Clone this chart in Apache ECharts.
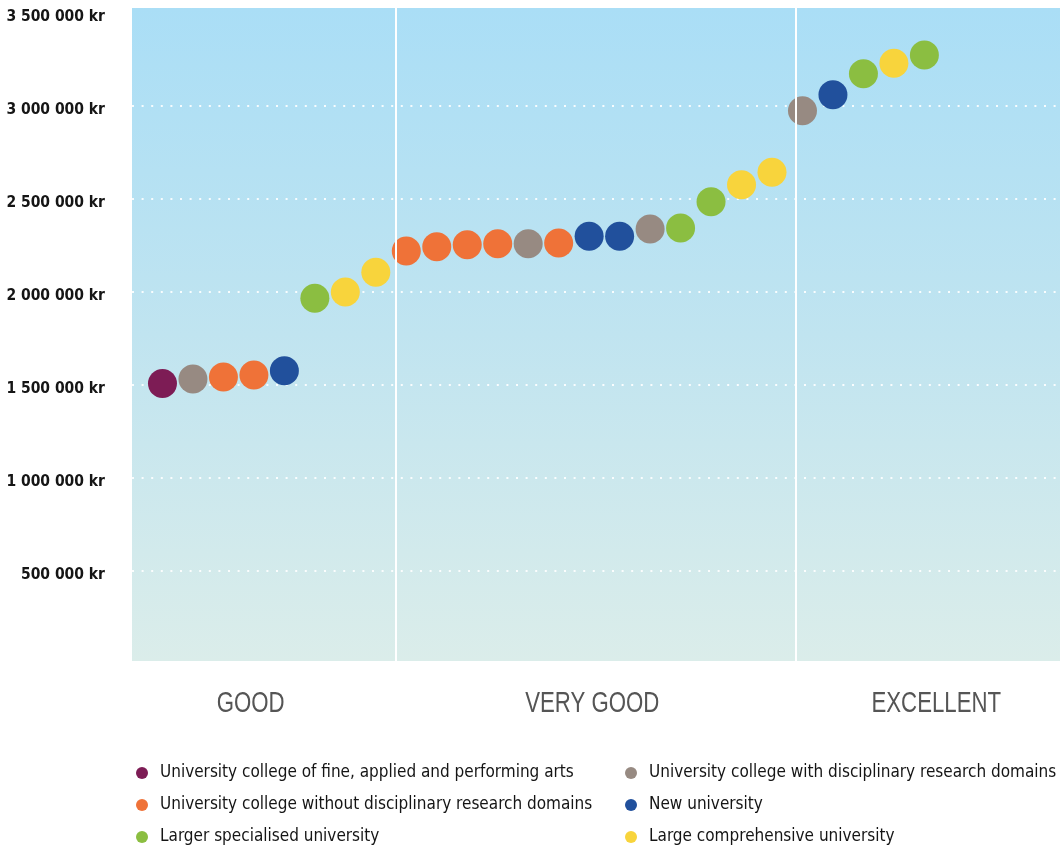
<!DOCTYPE html>
<html>
<head>
<meta charset="utf-8">
<script src="https://cdn.jsdelivr.net/npm/echarts@6/dist/echarts.min.js"></script>
<style>
  html, body { margin: 0; padding: 0; background: #ffffff; }
  #chart { width: 1063px; height: 848px; }
</style>
</head>
<body>
<div id="chart"></div>
<script>
// ---- DATA ----
const typeNames = [
  'University college of fine, applied and performing arts',
  'University college with disciplinary research domains',
  'University college without disciplinary research domains',
  'New university',
  'Larger specialised university',
  'Large comprehensive university'
];
const typeColors = ['#7d1c55', '#978a82', '#ef7238', '#21509c', '#8bbe41', '#f8d43c'];

// institution type (index into typeNames) for each ranked institution, left to right
const pointTypes = [0, 1, 2, 2, 3, 4, 5, 5,
                    2, 2, 2, 2, 1, 2, 3, 3, 1, 4, 4, 5, 5,
                    1, 3, 4, 5, 4];
// value in kr for each ranked institution
const pointValues = [1509000, 1533000, 1543000, 1554000, 1577000, 1967000, 2000000, 2107000,
                     2221000, 2244000, 2255000, 2260000, 2260000, 2264000, 2300000, 2300000, 2339000, 2345000, 2486000, 2578000, 2644000,
                     2976000, 3062000, 3175000, 3231000, 3275000];

const groupLabels = ['GOOD', 'VERY GOOD', 'EXCELLENT'];
const groupLabelX = [3.89, 15.1, 26.39];       // position on the rank axis
const dividerX = [8.64, 21.77];                 // boundaries between groups on the rank axis

// y axis: ticks every 500 000 from 0; the axis runs slightly past the top tick
const yTicks = { min: 0, max: 3528000, interval: 500000 };

// ---- CHART ----
const chart = echarts.init(document.getElementById('chart'));
const FONT = "'DejaVu Sans', sans-serif";
const FONT_W = "'Liberation Sans', Arial, sans-serif";

function fmt(v) {
  if (v === 0 || v % yTicks.interval !== 0) return '';
  return '{v|' + String(v).replace(/\B(?=(\d{3})+(?!\d))/g, ' ') + ' kr}';
}

const series = [{
  name: '_dividers',
  type: 'scatter',
  data: [],
  silent: true,
  z: 0,
  markLine: {
    silent: true,
    symbol: 'none',
    label: { show: false },
    lineStyle: { color: '#ffffff', width: 2, type: 'solid' },
    data: dividerX.map(x => ({ xAxis: x }))
  }
}].concat(typeNames.map((name, t) => ({
  name: name,
  type: 'scatter',
  symbol: 'circle',
  symbolSize: 29,
  z: 3,
  itemStyle: { color: typeColors[t], opacity: 1 },
  emphasis: { disabled: true },
  data: pointValues.map((v, i) => pointTypes[i] === t ? [i + 1, v] : null).filter(d => d)
})));

const W = 'rgba(255,255,255,0.9)', T = 'rgba(255,255,255,0)';

const leftNames = [typeNames[0], typeNames[2], typeNames[4]];
const rightNames = [typeNames[1], typeNames[3], typeNames[5]];
const legendCommon = {
  orient: 'vertical',
  top: 764,
  padding: 0,
  icon: 'circle',
  itemWidth: 26,
  itemHeight: 12,
  itemGap: 14,
  selectedMode: false,
  textStyle: { fontFamily: FONT, fontWeight: 'condensed', fontSize: 17, lineHeight: 18, color: '#151515' }
};

const option = {
  animation: false,
  backgroundColor: '#ffffff',
  grid: { left: 132, right: 3, top: 8, bottom: 184, containLabel: false, outerBoundsMode: 'none' },
  xAxis: {
    type: 'value', min: 0, max: 30.45, show: false
  },
  yAxis: {
    type: 'value',
    min: yTicks.min, max: yTicks.max, interval: yTicks.interval,
    axisLine: { show: false },
    axisTick: { show: false },
    splitLine: {
      show: true,
      lineStyle: { color: [T, W, W, W, W, W, W, T, T], width: 2, type: [2, 7.6] }
    },
    axisLabel: {
      formatter: fmt,
      margin: 27,
      showMaxLabel: false,
      rich: {
        v: { fontFamily: FONT, fontSize: 15.5, fontWeight: 'bold condensed', color: '#151515', padding: [8, 0, 0, 0] }
      }
    }
  },
  legend: [
    Object.assign({ left: 136, data: leftNames }, legendCommon),
    Object.assign({ left: 625, data: rightNames }, legendCommon)
  ],
  graphic: [{
    type: 'rect',
    z: -10,
    silent: true,
    shape: { x: 132, y: 8, width: 928, height: 653 },
    style: {
      fill: new echarts.graphic.LinearGradient(0, 0, 0, 1, [
        { offset: 0, color: '#aadef6' },
        { offset: 0.5, color: '#c0e4f0' },
        { offset: 1, color: '#dbedea' }
      ])
    }
  }],
  series: series
};
chart.setOption(option);

// group labels beneath the plot, placed via the rank axis
const labelEls = groupLabels.map((txt, i) => {
  const px = chart.convertToPixel({ xAxisIndex: 0 }, groupLabelX[i]);
  return {
    type: 'text',
    silent: true,
    x: px, y: 704,
    scaleX: 0.74,
    style: {
      text: txt, fontFamily: FONT_W, fontSize: 30, fill: '#555555',
      align: 'center', verticalAlign: 'middle'
    }
  };
});
chart.setOption({ graphic: option.graphic.concat(labelEls) });
</script>
</body>
</html>
